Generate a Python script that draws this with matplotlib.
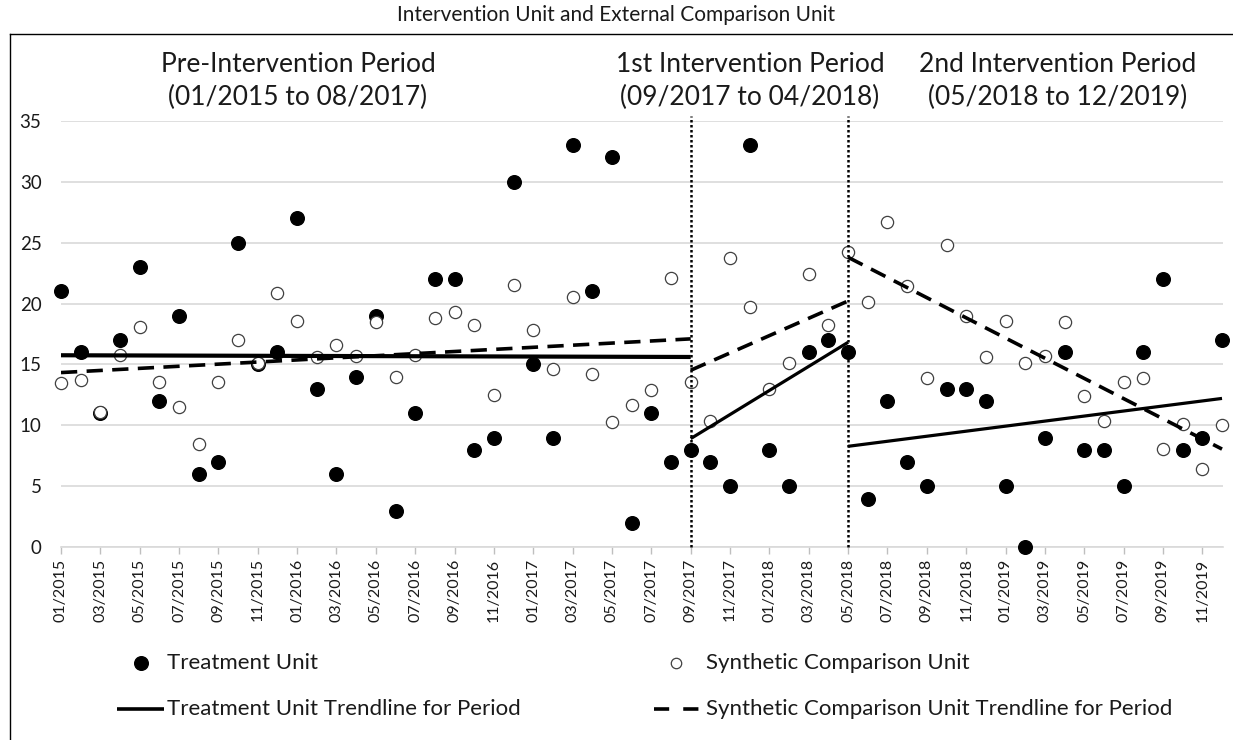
import numpy as np
import matplotlib
matplotlib.use('Agg')
import matplotlib.pyplot as plt
from matplotlib.lines import Line2D

plt.rcParams['font.family'] = ['Lato', 'DejaVu Sans']

# Monthly values, 01/2015 .. 12/2019
months = [f'{m:02d}/{y}' for y in range(2015, 2020) for m in range(1, 13)]
treatment = [21, 16, 11, 17, 23, 12, 19, 6, 7, 25,
             15, 16, 27, 13, 6, 14, 19, 3, 11, 22,
             22, 8, 9, 30, 15, 9, 33, 21, 32, 2,
             11, 7, 8, 7, 5, 33, 8, 5, 16, 17,
             16, 4, 12, 7, 5, 13, 13, 12, 5, 0,
             9, 16, 8, 8, 5, 16, 22, 8, 9, 17]
synthetic = [13.5, 13.7, 11.1, 15.8, 18.1, 13.6, 11.5, 8.5, 13.6, 17.0,
             15.1, 20.9, 18.6, 15.6, 16.6, 15.7, 18.5, 14.0, 15.8, 18.8,
             19.3, 18.2, 12.5, 21.5, 17.8, 14.6, 20.5, 14.2, 10.3, 11.7,
             12.9, 22.1, 13.6, 10.4, 23.7, 19.7, 13.0, 15.1, 22.4, 18.2,
             24.2, 20.1, 26.7, 21.4, 13.9, 24.8, 19.0, 15.6, 18.6, 15.1,
             15.7, 18.5, 12.4, 10.4, 13.6, 13.9, 8.1, 10.1, 6.4, 10.0]

# periods: (first month, last month fitted, last month drawn)
periods = [(0, 31, 32), (32, 39, 40), (40, 59, 59)]
period_labels = ['Pre-Intervention Period\n(01/2015 to 08/2017)',
                 '1st Intervention Period\n(09/2017 to 04/2018)',
                 '2nd Intervention Period\n(05/2018 to 12/2019)']
period_label_x = [298, 750, 1058]   # pixel centres
cutoffs = [32, 40]

W, H = 1233, 740
fig = plt.figure(figsize=(W / 100, H / 100), dpi=100)
ax = fig.add_axes([61 / W, (H - 547.3) / H, (1223 - 61) / W, (547.3 - 120.7) / H])

x = np.arange(len(months))
ax.plot(x, treatment, 'o', color='black', markersize=9.8, zorder=3, clip_on=False)
ax.plot(x, synthetic, 'o', markerfacecolor='white', markeredgecolor='#404040',
        markeredgewidth=0.9, markersize=8.8, zorder=3, clip_on=False)

dash = (0, (4.5, 2.6))

# trendlines fitted per period
for i, (a, b, c) in enumerate(periods):
    xs = np.arange(a, b + 1)
    xd = np.array([a, c])
    kt = np.polyfit(xs, np.array(treatment[a:b + 1]), 1)
    ks = np.polyfit(xs, np.array(synthetic[a:b + 1]), 1)
    lw = 3.0 if i == 0 else 2.3
    ax.plot(xd, np.polyval(kt, xd), color='black', lw=lw, zorder=4,
            solid_capstyle='butt')
    ax.plot(xd, np.polyval(ks, xd), color='black', lw=2.6, zorder=4,
            linestyle=dash, dash_capstyle='butt')

for c in cutoffs:
    ax.plot([c, c], [0, 35.4], color='black', lw=1.8, linestyle=(0, (1, 1)),
            zorder=5, clip_on=False)

ax.set_xlim(0, 59.05)
ax.set_ylim(0, 35)
ax.set_yticks(range(0, 36, 5))
ax.set_xticks(x[::2])
ax.set_xticklabels(months[::2], rotation=90, fontsize=11.5, color='#1a1a1a')
ax.tick_params(axis='y', length=0, pad=14, labelsize=13.5, labelcolor='#1a1a1a')
ax.tick_params(axis='x', length=5, width=1, color='#bfbfbf', pad=3)
ax.grid(axis='y', color='#d9d9d9', lw=1.2)
ax.set_axisbelow(True)
for s in ['top', 'right', 'left']:
    ax.spines[s].set_visible(False)
ax.spines['bottom'].set_color('#d9d9d9')
ax.spines['bottom'].set_linewidth(1.2)

# period headings
for lbl, px in zip(period_labels, period_label_x):
    fig.text(px / W, 1 - 81 / H, lbl, ha='center', va='center', fontsize=19,
             linespacing=1.42, color='#1a1a1a')

# title and frame
fig.text(0.5, 1 - 15 / H, 'Intervention Unit and External Comparison Unit',
         ha='center', va='center', fontsize=15, color='#1a1a1a')
fig.add_artist(Line2D([10 / W, 1], [1 - 34 / H, 1 - 34 / H], color='black', lw=1))
fig.add_artist(Line2D([10 / W, 10 / W], [0, 1 - 34 / H], color='black', lw=1))

# legend
fy1, fy2 = 1 - 663 / H, 1 - 709 / H
fig.add_artist(Line2D([141 / W], [fy1], marker='o', color='black', markersize=9.8, lw=0))
fig.add_artist(Line2D([676 / W], [fy1], marker='o', markerfacecolor='white',
                      markeredgecolor='#404040', markeredgewidth=0.9, markersize=7.5, lw=0))
fig.add_artist(Line2D([117 / W, 164 / W], [fy2, fy2], color='black', lw=2.6,
                      solid_capstyle='butt'))
fig.add_artist(Line2D([654 / W, 699 / W], [fy2, fy2], color='black', lw=2.6,
                      linestyle=(0, (4.2, 3.9)), dash_capstyle='butt'))
leg_kw = dict(ha='left', va='center', fontsize=16, color='#1a1a1a')
fig.text(167 / W, fy1, 'Treatment Unit', **leg_kw)
fig.text(706 / W, fy1, 'Synthetic Comparison Unit', **leg_kw)
fig.text(167 / W, fy2, 'Treatment Unit Trendline for Period', **leg_kw)
fig.text(706 / W, fy2, 'Synthetic Comparison Unit Trendline for Period', **leg_kw)

fig.savefig('out.png', dpi=100)
